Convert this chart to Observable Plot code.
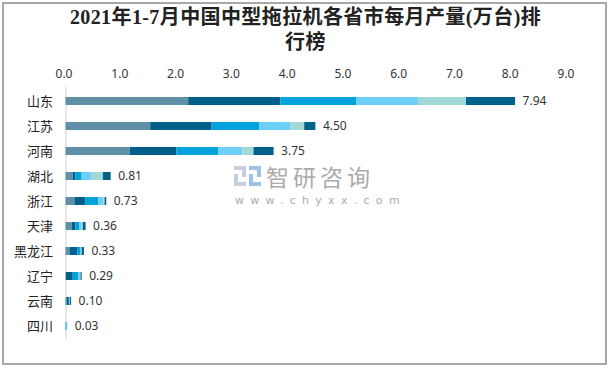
<!DOCTYPE html>
<html>
<head>
<meta charset="utf-8">
<script src="https://cdn.jsdelivr.net/npm/d3@7"></script>
<script src="https://cdn.jsdelivr.net/npm/@observablehq/plot@0.6"></script>
<style>
  html, body { margin: 0; padding: 0; background: #fff; }
  #wrap { position: relative; width: 611px; height: 369px; overflow: hidden; background: #fff; }
  #frame { position: absolute; left: 2px; top: 2px; width: 601px; height: 359px; border: 2px solid #a8a8a8; box-sizing: content-box; pointer-events: none; }
  #title { position: absolute; left: 0; top: 5px; width: 611px; text-align: center; font-family: "Liberation Serif", "DejaVu Serif", "Noto Sans CJK SC", serif; font-weight: bold; font-size: 20px; line-height: 25px; letter-spacing: 0.4px; color: #222; }
  #chart { position: absolute; left: 0; top: 56px; }
  #wm { position: absolute; left: 234px; top: 162px; width: 150px; height: 48px; pointer-events: none; }
  #wm .cn { position: absolute; left: 32px; top: 3px; font-family: "Noto Sans CJK SC", sans-serif; font-size: 23px; line-height: 23px; letter-spacing: 4px; color: #ababab; }
  #wm .url { position: absolute; left: 1px; top: 33px; font-family: "DejaVu Sans", sans-serif; font-size: 11px; line-height: 12px; letter-spacing: 6.3px; color: #ababab; }
  #wm svg { position: absolute; left: 0; top: 4px; }
</style>
</head>
<body>
<div id="wrap">
  <div id="title">2021年1-7月中国中型拖拉机各省市每月产量(万台)排<br>行榜</div>
  <div id="chart"></div>
  <div id="wm">
    <svg width="28" height="20" viewBox="0 0 28 20">
      <rect x="0" y="0" width="12" height="4" fill="#c6cfe2"/>
      <rect x="8" y="0" width="4" height="11" fill="#c6cfe2"/>
      <rect x="0" y="8" width="4" height="12" fill="#c6cfe2"/>
      <rect x="0" y="16" width="12" height="4" fill="#c6cfe2"/>
      <rect x="15" y="0" width="12" height="4" fill="#9fc3e6"/>
      <rect x="23" y="0" width="4" height="11" fill="#9fc3e6"/>
      <rect x="15" y="8" width="4" height="12" fill="#9fc3e6"/>
      <rect x="15" y="16" width="12" height="4" fill="#9fc3e6"/>
    </svg>
    <div class="cn">智研咨询</div>
    <div class="url">www.chyxx.com</div>
  </div>
  <div id="frame"></div>
</div>
<script>
const provinces = ["山东","江苏","河南","湖北","浙江","天津","黑龙江","辽宁","云南","四川"];
const totals = [7.94, 4.50, 3.75, 0.81, 0.73, 0.36, 0.33, 0.29, 0.10, 0.03];
const months = ["1-2月","3月","4月","5月","6月","7月"];
const m12 = [2.20, 1.52, 1.15, 0.13, 0.16, 0.11, 0.07, 0.01, 0.02, 0.00];
const m3  = [1.65, 1.09, 0.84, 0.05, 0.20, 0.07, 0.14, 0.12, 0.04, 0.00];
const m4  = [1.36, 0.86, 0.75, 0.11, 0.23, 0.07, 0.05, 0.10, 0.01, 0.02];
const m5  = [1.11, 0.56, 0.43, 0.18, 0.09, 0.04, 0.02, 0.03, 0.01, 0.01];
const m6  = [0.86, 0.25, 0.20, 0.20, 0.02, 0.02, 0.01, 0.01, 0.00, 0.00];
const m7  = [0.88, 0.20, 0.36, 0.14, 0.03, 0.05, 0.04, 0.02, 0.02, 0.00];
const colors = ["#5f90a8", "#00608a", "#00a3db", "#6dcff6", "#a1d9d6", "#00618a"];
const xTicks = [0,1,2,3,4,5,6,7,8,9];

const series = [m12, m3, m4, m5, m6, m7];
const rows = [];
series.forEach((arr, si) => arr.forEach((v, pi) => rows.push({province: provinces[pi], month: months[si], value: v})));
const labels = provinces.map((p, i) => ({province: p, end: d3.sum(series, s => s[i]), text: totals[i].toFixed(2)}));

const chart = Plot.plot({
  width: 611,
  height: 313,
  marginTop: 31,
  marginBottom: 30,
  marginLeft: 65.5,
  marginRight: 43.5,
  style: {fontFamily: "'Noto Sans CJK SC', 'Noto Sans', sans-serif", background: "transparent", color: "#333"},
  x: {domain: [0, 9], axis: null},
  y: {domain: provinces, axis: null, paddingInner: 0.683, paddingOuter: 0.3415},
  color: {domain: months, range: colors},
  marks: [
    Plot.ruleX([0], {stroke: "#d9d9d9", strokeWidth: 1.2}),
    Plot.barX(rows, Plot.stackX({x: "value", y: "province", fill: "month", order: months})),
    Plot.axisX(xTicks, {anchor: "top", tickSize: 0, tickPadding: 10, tickFormat: d3.format(".1f"), fontSize: 12, dx: -2, label: null, fill: "#333", fontFamily: "'Noto Sans', sans-serif"}),
    Plot.axisY({anchor: "left", tickSize: 0, tickPadding: 13, fontSize: 13, label: null, fill: "#222"}),
    Plot.text(labels, {x: "end", y: "province", text: "text", textAnchor: "start", dx: 7, fontSize: 12, fill: "#333", fontFamily: "'Noto Sans', sans-serif"})
  ]
});
document.getElementById("chart").appendChild(chart);
</script>
</body>
</html>
